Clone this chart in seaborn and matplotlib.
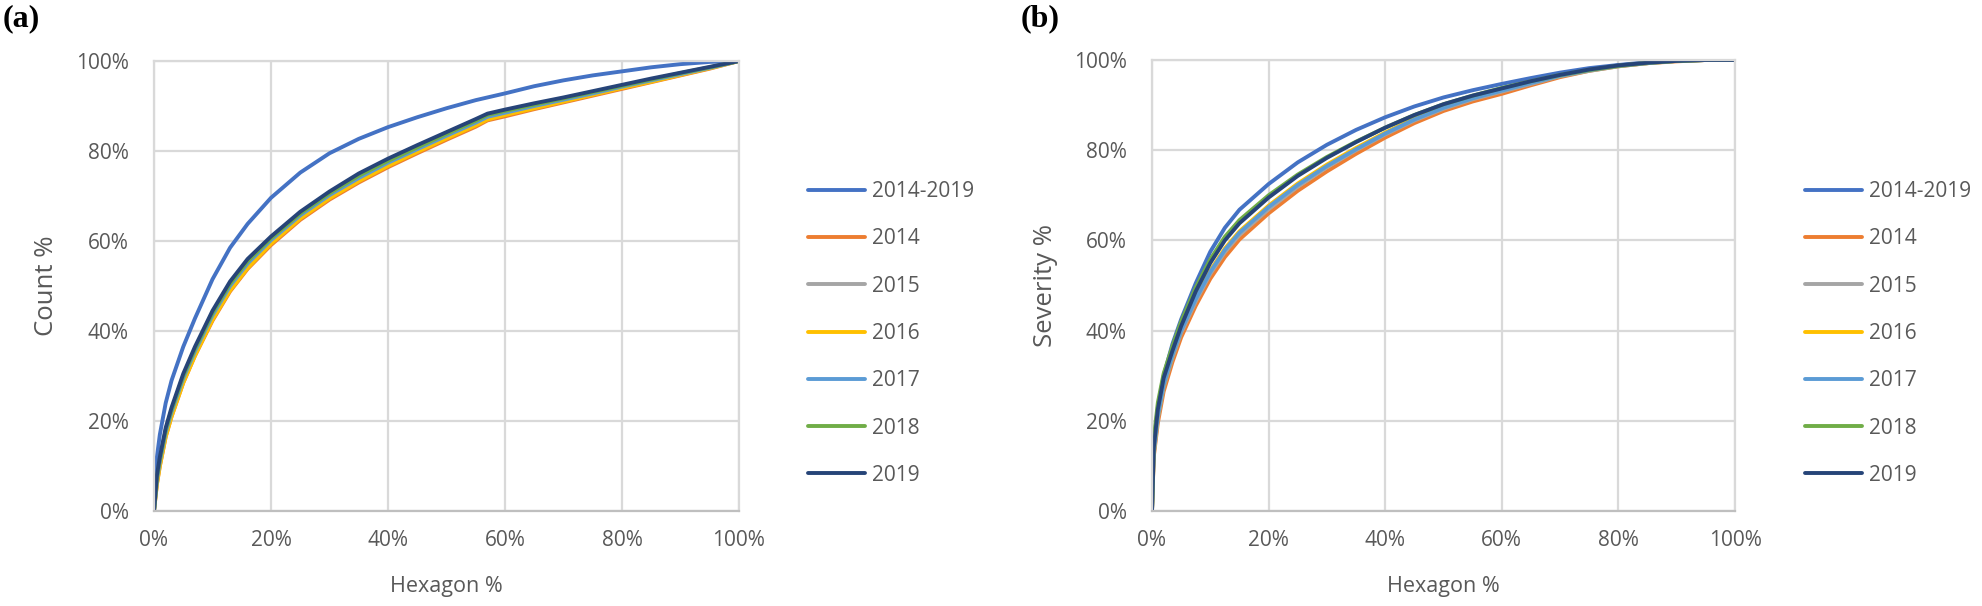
import numpy as np
import pandas as pd
import matplotlib
matplotlib.use('Agg')
import matplotlib.pyplot as plt
from matplotlib.ticker import PercentFormatter, MultipleLocator
import seaborn as sns

sns.set_theme(style='white')
plt.rcParams['font.family'] = ['Open Sans', 'DejaVu Sans']

series = ['2014-2019', '2014', '2015', '2016', '2017', '2018', '2019']
colors = ['#4472C4', '#ED7D31', '#A5A5A5', '#FFC000', '#5B9BD5', '#70AD47', '#264478']

# panel (a): Count % vs Hexagon %
hex_a = [0, 0.5, 1, 2, 3, 5, 7, 10, 13, 16, 20, 25, 30, 35, 40, 45, 50, 55, 57, 60, 65, 70, 75, 80, 85, 90, 95, 100]
count_all = [0, 12, 17, 24, 29, 36.5, 42.8, 51.5, 58.5, 63.8, 69.6, 75.2, 79.5, 82.7, 85.3, 87.5, 89.5, 91.3, 91.9, 92.8, 94.4, 95.7, 96.8, 97.7, 98.6, 99.3, 99.8, 100]
count_2014 = [0, 6, 10, 16.5, 21, 28.5, 34.5, 42.3, 48.8, 53.8, 59.1, 64.7, 69.2, 73, 76.4, 79.5, 82.5, 85.4, 86.8, 87.7, 89.3, 90.8, 92.3, 93.8, 95.3, 96.8, 98.3, 100]
count_2015 = [0, 6.5, 10.5, 17, 21.5, 29, 35, 43, 49.5, 54.5, 59.8, 65.3, 69.8, 73.6, 77, 80, 83, 85.9, 87.3, 88.2, 89.7, 91.1, 92.6, 94.1, 95.5, 97, 98.5, 100]
count_2016 = [0, 6, 10, 16.5, 21, 28.5, 34.5, 42.5, 49, 54, 59.4, 65, 69.5, 73.3, 76.7, 79.8, 82.8, 85.7, 87, 88, 89.5, 91, 92.5, 94, 95.4, 96.9, 98.4, 100]
count_2017 = [0, 7, 11, 17.5, 22, 29.5, 35.5, 43.5, 50, 55, 60.2, 65.7, 70.2, 74, 77.4, 80.4, 83.4, 86.3, 87.6, 88.5, 90, 91.4, 92.8, 94.3, 95.7, 97.1, 98.5, 100]
count_2018 = [0, 7.5, 11.5, 18, 22.5, 30, 36, 44, 50.5, 55.5, 60.6, 66.1, 70.6, 74.5, 77.8, 80.8, 83.8, 86.7, 88, 88.9, 90.3, 91.7, 93.1, 94.5, 95.9, 97.3, 98.6, 100]
count_2019 = [0, 8, 12, 18.5, 23, 30.5, 36.5, 44.5, 51, 56, 61, 66.5, 71, 75, 78.3, 81.3, 84.2, 87.1, 88.3, 89.2, 90.6, 91.9, 93.3, 94.7, 96.1, 97.4, 98.7, 100]

# panel (b): Severity % vs Hexagon %
hex_b = [0, 0.3, 1, 2, 3.5, 5, 7.5, 10, 12.5, 15, 20, 25, 30, 35, 40, 45, 50, 55, 60, 65, 70, 75, 80, 85, 90, 95, 100]
sev_all = [0, 15, 23, 30, 37, 42.5, 50.5, 57.5, 62.8, 66.8, 72.5, 77.3, 81.2, 84.5, 87.3, 89.7, 91.7, 93.3, 94.7, 96, 97.2, 98.2, 98.9, 99.5, 99.9, 100, 100]
sev_2014 = [0, 12, 19.5, 26.5, 33, 38.5, 45.5, 51.5, 56.3, 60.2, 66, 71, 75.3, 79.2, 82.8, 86, 88.7, 90.8, 92.5, 94.4, 96.2, 97.6, 98.6, 99.3, 99.7, 100, 100]
sev_2015 = [0, 12.5, 20.5, 27.5, 34, 39.5, 46.5, 52.6, 57.4, 61.2, 66.9, 71.9, 76.2, 80, 83.5, 86.6, 89.2, 91.3, 93, 94.7, 96.4, 97.6, 98.6, 99.3, 99.8, 100, 100]
sev_2016 = [0, 13, 21, 28, 34.5, 40.2, 47.3, 53.3, 58.2, 62, 67.7, 72.6, 76.8, 80.5, 83.9, 87, 89.5, 91.6, 93.3, 95, 96.5, 97.7, 98.7, 99.3, 99.8, 100, 100]
sev_2017 = [0, 13, 21, 28, 34.5, 40, 47, 53, 57.9, 61.7, 67.4, 72.3, 76.5, 80.2, 83.7, 86.8, 89.4, 91.5, 93.2, 94.9, 96.5, 97.7, 98.7, 99.3, 99.8, 100, 100]
sev_2018 = [0, 16, 24, 30.5, 36.5, 42, 49.5, 55.8, 60.8, 64.5, 70, 74.6, 78.5, 81.9, 85, 87.8, 90.2, 92.1, 93.8, 95.3, 96.7, 97.8, 98.7, 99.4, 99.8, 100, 100]
sev_2019 = [0, 14, 22.5, 29.5, 35.5, 41, 48.7, 55, 60, 63.8, 69.5, 74.3, 78.3, 81.8, 85, 87.8, 90.2, 92.1, 93.7, 95.3, 96.7, 97.9, 98.8, 99.4, 99.8, 100, 100]


def long_df(x, ys):
    frames = []
    for name, y in zip(series, ys):
        frames.append(pd.DataFrame({'hex': x, 'val': y, 'series': name}))
    return pd.concat(frames, ignore_index=True)


df_a = long_df(hex_a, [count_all, count_2014, count_2015, count_2016, count_2017, count_2018, count_2019])
df_b = long_df(hex_b, [sev_all, sev_2014, sev_2015, sev_2016, sev_2017, sev_2018, sev_2019])

palette = dict(zip(series, colors))
txt = '#595959'
grid_c = '#d9d9d9'

fig = plt.figure(figsize=(19.82, 6.06), dpi=100)
ax_a = fig.add_axes([154 / 1982, 95 / 606, 585 / 1982, 450 / 606])
ax_b = fig.add_axes([1152 / 1982, 95 / 606, 583 / 1982, 451 / 606])

for ax, df, ylab, leg_x in [(ax_a, df_a, 'Count %', 808), (ax_b, df_b, 'Severity %', 1805)]:
    sns.lineplot(data=df, x='hex', y='val', hue='series', hue_order=series,
                 palette=palette, linewidth=2.8, sort=False, estimator=None, ax=ax)
    ax.set_xlim(0, 100)
    ax.set_ylim(0, 100)
    ax.xaxis.set_major_locator(MultipleLocator(20))
    ax.yaxis.set_major_locator(MultipleLocator(20))
    ax.xaxis.set_major_formatter(PercentFormatter(decimals=0))
    ax.yaxis.set_major_formatter(PercentFormatter(decimals=0))
    ax.grid(True, color=grid_c, linewidth=1.6)
    ax.set_axisbelow(True)
    for s in ax.spines.values():
        s.set_color(grid_c)
        s.set_linewidth(1.6)
    ax.spines['bottom'].set_color('#bfbfbf')
    ax.tick_params(axis='both', length=0, labelsize=15, labelcolor=txt)
    ax.tick_params(axis='y', pad=18)
    ax.tick_params(axis='x', pad=14)
    ax.set_xlabel('Hexagon %', fontsize=15.5, color=txt)
    ax.set_ylabel(ylab, fontsize=18.5, color=txt)
    ax.xaxis.set_label_coords(0.5, -0.145)
    ax.yaxis.set_label_coords(-0.162, 0.5)
    ax.get_legend().remove()
    handles, labels = ax.get_legend_handles_labels()
    fig.legend(handles, labels, loc='center left',
               bbox_to_anchor=(leg_x / 1982, (606 - 333.5) / 606),
               frameon=False, fontsize=15, labelcolor=txt,
               handlelength=2.75, handletextpad=0.3, labelspacing=1.26,
               borderpad=0, borderaxespad=0)

fig.text(3 / 1982, 1 - 4 / 606, '(a)', fontsize=23, fontweight='bold',
         family='Liberation Serif', va='top', ha='left', color='black')
fig.text(1021 / 1982, 1 - 4 / 606, '(b)', fontsize=23, fontweight='bold',
         family='Liberation Serif', va='top', ha='left', color='black')

fig.savefig('out.png', dpi=100, facecolor='white')
